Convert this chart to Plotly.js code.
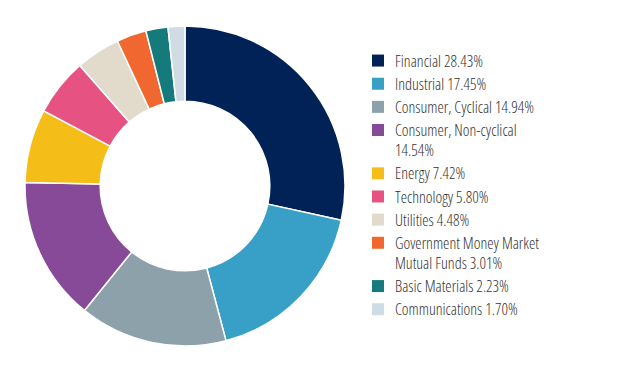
<!DOCTYPE html>
<html>
<head>
<meta charset="utf-8">
<script src="https://cdn.plot.ly/plotly-3.0.1.min.js"></script>
<style>
html,body{margin:0;padding:0;background:#fff;}
#chart{width:627px;height:371px;}
.legendtext{font-stretch:75%;}
.legendpoints path{stroke-width:0 !important;}
.legendpoints{transform:translate(3px,0);}
</style>
</head>
<body>
<div id="chart"></div>
<script>
const sectors = ["Financial", "Industrial", "Consumer, Cyclical", "Consumer, Non-cyclical", "Energy", "Technology", "Utilities", "Government Money Market Mutual Funds", "Basic Materials", "Communications"];
const legendLabels = ["Financial 28.43%", "Industrial 17.45%", "Consumer, Cyclical 14.94%", "Consumer, Non-cyclical<br>14.54%", "Energy 7.42%", "Technology 5.80%", "Utilities 4.48%", "Government Money Market<br>Mutual Funds 3.01%", "Basic Materials 2.23%", "Communications 1.70%"];
const weights = [28.43, 17.45, 14.94, 14.54, 7.42, 5.80, 4.48, 3.01, 2.23, 1.70];
const colors = ["#012257", "#389FC7", "#8CA1AA", "#874A98", "#F5BD17", "#E65383", "#E2DBCB", "#F06830", "#157A7B", "#CFDCE3"];

const W = 627, H = 371;
const cx = 185, cy = 186, R = 160;

const trace = {
  type: "pie",
  labels: legendLabels.map(t => t.split("<br>").map(s => "<span style='font-size:16px'>" + s + "</span>").join("<br>")),
  values: weights,
  sort: false,
  direction: "clockwise",
  rotation: 0,
  hole: 0.53,
  textinfo: "none",
  hoverinfo: "label",
  marker: {colors: colors, line: {color: "#ffffff", width: 1.5}},
  domain: {x: [(cx - R) / W, (cx + R) / W], y: [(H - cy - R) / H, (H - cy + R) / H]}
};

const layout = {
  width: W, height: H,
  margin: {l: 0, r: 0, t: 0, b: 0},
  paper_bgcolor: "#ffffff",
  showlegend: true,
  legend: {
    x: 355 / W, xanchor: "left",
    y: 1 - 44 / H, yanchor: "top",
    valign: "top",
    font: {family: "'Open Sans', sans-serif", size: 15.5, weight: 300, color: "#333333"},
    bgcolor: "rgba(0,0,0,0)",
    traceorder: "normal"
  }
};

Plotly.newPlot("chart", [trace], layout, {displayModeBar: false, staticPlot: true});
</script>
</body>
</html>
